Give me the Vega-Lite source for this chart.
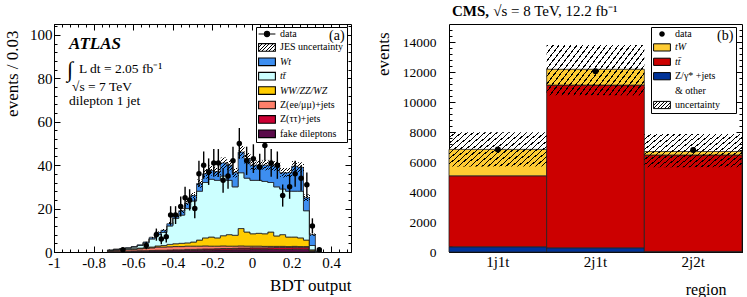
{
"$schema": "https://vega.github.io/schema/vega-lite/v6.json",
"padding": {"left": 3, "top": 4, "right": 4, "bottom": 3},
"bounds": "flush",
"spacing": 98,
"params": [
 {"name": "hatchS", "value": {"gradient": "linear", "x1": 0, "y1": 0, "x2": 1.206, "y2": 0.543, "stops": [
  {"offset": 0, "color": "#000"}, {"offset": 0.0429, "color": "#000"}, {"offset": 0.0429, "color": "transparent"}, {"offset": 0.1429, "color": "transparent"},
  {"offset": 0.1429, "color": "#000"}, {"offset": 0.1857, "color": "#000"}, {"offset": 0.1857, "color": "transparent"}, {"offset": 0.2857, "color": "transparent"},
  {"offset": 0.2857, "color": "#000"}, {"offset": 0.3286, "color": "#000"}, {"offset": 0.3286, "color": "transparent"}, {"offset": 0.4286, "color": "transparent"},
  {"offset": 0.4286, "color": "#000"}, {"offset": 0.4714, "color": "#000"}, {"offset": 0.4714, "color": "transparent"}, {"offset": 0.5714, "color": "transparent"},
  {"offset": 0.5714, "color": "#000"}, {"offset": 0.6143, "color": "#000"}, {"offset": 0.6143, "color": "transparent"}, {"offset": 0.7143, "color": "transparent"},
  {"offset": 0.7143, "color": "#000"}, {"offset": 0.7571, "color": "#000"}, {"offset": 0.7571, "color": "transparent"}, {"offset": 0.8571, "color": "transparent"},
  {"offset": 0.8571, "color": "#000"}, {"offset": 0.9, "color": "#000"}, {"offset": 0.9, "color": "transparent"}, {"offset": 1, "color": "transparent"}
 ]}}
],
"datasets": {
 "mc": [
  {"x":-0.73,"c1":0.3,"c2":0,"c3":0.4,"c4":0,"c5":0.1,"c6":0},
  {"x":-0.70,"c1":0.3,"c2":0.1,"c3":0.5,"c4":0.1,"c5":0.2,"c6":0.1},
  {"x":-0.67,"c1":0.3,"c2":0.1,"c3":0.6,"c4":0.1,"c5":0.3,"c6":0.1},
  {"x":-0.64,"c1":0.3,"c2":0.1,"c3":0.7,"c4":0.2,"c5":0.5,"c6":0.1},
  {"x":-0.61,"c1":0.4,"c2":0.1,"c3":0.8,"c4":0.2,"c5":0.8,"c6":0.2},
  {"x":-0.58,"c1":0.4,"c2":0.2,"c3":0.9,"c4":0.3,"c5":1.2,"c6":0.3},
  {"x":-0.55,"c1":0.4,"c2":0.2,"c3":1.0,"c4":0.4,"c5":2.2,"c6":0.4},
  {"x":-0.52,"c1":0.5,"c2":0.2,"c3":1.2,"c4":0.4,"c5":3.7,"c6":0.6,"jl":6.2,"jh":7.0},
  {"x":-0.49,"c1":0.5,"c2":0.3,"c3":1.5,"c4":0.5,"c5":5.2,"c6":1.0,"jl":8.5,"jh":9.5},
  {"x":-0.46,"c1":0.5,"c2":0.3,"c3":1.5,"c4":0.7,"c5":6.0,"c6":1.0,"jl":9.4,"jh":10.6},
  {"x":-0.43,"c1":0.5,"c2":0.4,"c3":1.5,"c4":1.1,"c5":8.5,"c6":1.0,"jl":12.2,"jh":13.8},
  {"x":-0.40,"c1":0.6,"c2":0.4,"c3":1.5,"c4":1.3,"c5":11.7,"c6":1.5,"jl":16.0,"jh":18.0},
  {"x":-0.37,"c1":0.6,"c2":0.4,"c3":1.5,"c4":1.5,"c5":13.0,"c6":2.0,"jl":17.9,"jh":20.1},
  {"x":-0.34,"c1":0.7,"c2":0.5,"c3":1.5,"c4":1.5,"c5":15.8,"c6":2.5,"jl":21.2,"jh":23.8},
  {"x":-0.31,"c1":0.7,"c2":0.5,"c3":1.5,"c4":1.9,"c5":18.9,"c6":2.5,"jl":24.4,"jh":27.6},
  {"x":-0.28,"c1":0.8,"c2":0.5,"c3":1.4,"c4":2.8,"c5":22.5,"c6":3.5,"jl":29.6,"jh":33.4},
  {"x":-0.25,"c1":0.8,"c2":0.6,"c3":1.4,"c4":3.7,"c5":25.5,"c6":4.0,"jl":33.8,"jh":38.2},
  {"x":-0.22,"c1":0.8,"c2":0.6,"c3":1.3,"c4":4.2,"c5":26.6,"c6":4.0,"jl":35.2,"jh":39.8},
  {"x":-0.19,"c1":0.9,"c2":0.6,"c3":1.2,"c4":3.8,"c5":26.5,"c6":4.0,"jl":34.8,"jh":39.2},
  {"x":-0.16,"c1":0.9,"c2":0.7,"c3":1.2,"c4":4.7,"c5":27.5,"c6":6.0,"jl":38.5,"jh":43.5},
  {"x":-0.13,"c1":0.9,"c2":0.7,"c3":1.1,"c4":5.3,"c5":25.0,"c6":7.0,"jl":37.6,"jh":42.4},
  {"x":-0.10,"c1":1.0,"c2":0.7,"c3":1.0,"c4":5.0,"c5":22.3,"c6":6.5,"jl":34.3,"jh":38.7},
  {"x":-0.07,"c1":1.0,"c2":0.8,"c3":1.0,"c4":8.0,"c5":25.7,"c6":9.5,"jl":43.2,"jh":48.8},
  {"x":-0.04,"c1":1.0,"c2":0.8,"c3":0.9,"c4":6.5,"c5":24.8,"c6":9.0,"jl":40.4,"jh":45.6},
  {"x":-0.01,"c1":1.1,"c2":0.8,"c3":0.8,"c4":5.7,"c5":24.6,"c6":7.0,"jl":37.6,"jh":42.4},
  {"x":0.02,"c1":1.1,"c2":0.8,"c3":0.8,"c4":5.9,"c5":24.4,"c6":7.0,"jl":37.6,"jh":42.4},
  {"x":0.05,"c1":1.1,"c2":0.8,"c3":0.7,"c4":5.8,"c5":24.1,"c6":7.5,"jl":37.6,"jh":42.4},
  {"x":0.08,"c1":1.2,"c2":0.8,"c3":0.6,"c4":6.6,"c5":22.8,"c6":8.0,"jl":37.6,"jh":42.4},
  {"x":0.11,"c1":1.2,"c2":0.9,"c3":0.5,"c4":4.8,"c5":22.6,"c6":9.5,"jl":37.1,"jh":41.9},
  {"x":0.14,"c1":1.2,"c2":0.9,"c3":0.5,"c4":5.4,"c5":21.0,"c6":7.5,"jl":34.3,"jh":38.7},
  {"x":0.17,"c1":1.2,"c2":0.9,"c3":0.4,"c4":4.4,"c5":21.1,"c6":8.5,"jl":34.3,"jh":38.7},
  {"x":0.20,"c1":1.3,"c2":0.9,"c3":0.4,"c4":4.3,"c5":21.1,"c6":11.5,"jl":37.1,"jh":41.9},
  {"x":0.23,"c1":1.3,"c2":0.9,"c3":0.3,"c4":4.0,"c5":21.5,"c6":11.0,"jl":36.7,"jh":41.3},
  {"x":0.26,"c1":1.3,"c2":0.9,"c3":0.3,"c4":3.0,"c5":13.5,"c6":6.0,"jl":23.5,"jh":26.5},
  {"x":0.29,"c1":0.3,"c2":0.2,"c3":0.1,"c4":0.4,"c5":2.0,"c6":5.0,"jl":7.5,"jh":8.5},
  {"x":0.32,"c1":0,"c2":0,"c3":0,"c4":0,"c5":0.2,"c6":0.3},
  {"x":0.35,"c1":0,"c2":0,"c3":0,"c4":0,"c5":0,"c6":0}
 ],
 "pts": [
  {"x":-0.652,"n":1,"e":1},{"x":-0.534,"n":3,"e":1.7},{"x":-0.483,"n":8,"e":2.8},{"x":-0.458,"n":6,"e":2.4},
  {"x":-0.433,"n":7,"e":2.6},{"x":-0.411,"n":17,"e":4.1},{"x":-0.386,"n":17,"e":4.1},{"x":-0.36,"n":21,"e":4.6},
  {"x":-0.338,"n":25,"e":5},{"x":-0.315,"n":24,"e":4.9},{"x":-0.289,"n":20,"e":4.5},{"x":-0.268,"n":36,"e":6},
  {"x":-0.244,"n":40,"e":6.3},{"x":-0.219,"n":37,"e":6.1},{"x":-0.193,"n":41,"e":6.4},{"x":-0.17,"n":41,"e":6.4},
  {"x":-0.146,"n":33,"e":5.7},{"x":-0.121,"n":35,"e":5.9},{"x":-0.096,"n":42,"e":6.5},{"x":-0.064,"n":50,"e":7.1},
  {"x":-0.027,"n":42,"e":6.5},{"x":0.007,"n":43,"e":6.6},{"x":0.039,"n":39,"e":6.2},{"x":0.065,"n":49,"e":7},
  {"x":0.097,"n":41,"e":6.4},{"x":0.128,"n":40,"e":6.3},{"x":0.155,"n":26,"e":5.1},{"x":0.19,"n":30,"e":5.5},
  {"x":0.218,"n":36,"e":6},{"x":0.248,"n":34,"e":5.8},{"x":0.277,"n":31,"e":5.6},{"x":0.305,"n":12,"e":3.5},
  {"x":0.34,"n":1,"e":1}
 ],
 "cms": [
  {"r":"1j1t","b1":350,"b2":4730,"b3":1760,"lo":5700,"hi":7980,"d":6830},
  {"r":"2j1t","b1":280,"b2":10850,"b3":1050,"lo":10450,"hi":13800,"d":12050},
  {"r":"2j2t","b1":40,"b2":6430,"b3":230,"lo":5650,"hi":7870,"d":6800}
 ]
},
"resolve": {"scale": {"color": "independent"}, "legend": {"color": "independent"}},
"hconcat": [
 {
  "width": 297, "height": 228,
  "resolve": {"axis": {"x": "independent", "y": "independent"}},
  "layer": [
   {
    "data": {"name": "mc"},
    "transform": [{"fold": ["c1","c2","c3","c4","c5","c6"]}],
    "mark": {"type": "area", "interpolate": "step-after", "stroke": "#222", "strokeWidth": 0.8, "opacity": 1},
    "encoding": {
     "x": {"field": "x", "type": "quantitative", "scale": {"domain": [-1, 0.5], "nice": false, "zero": false},
      "axis": {"orient": "bottom", "values": [-1,-0.8,-0.6,-0.4,-0.2,0,0.2,0.4], "labelExpr": "'' + datum.value", "tickSize": -6, "labelPadding": 9, "labelFontSize": 15, "labelFlush": false, "labelOverlap": false, "domain": true, "title": "BDT output", "titleFontSize": 17, "titleAnchor": "end", "titlePadding": 7}},
     "y": {"field": "value", "type": "quantitative", "stack": "zero", "scale": {"domain": [0, 105], "nice": false},
      "axis": {"orient": "left", "values": [0,20,40,60,80,100], "tickSize": -6, "labelPadding": 8, "labelFontSize": 15, "domain": true, "title": "events / 0.03", "titleFontSize": 17, "titleAnchor": "end", "titlePadding": 8, "titleY": 6}},
     "color": {"field": "key", "type": "nominal",
      "scale": {"domain": ["data","jes","c6","c5","c4","c3","c2","c1"], "range": ["#000", {"expr": "hatchS"}, "#3d8ef0","#ccffff","#ffcc00","#ff7f6a","#cc0033","#5a0a4a"]},
      "legend": {"orient": "none", "legendX": 202, "legendY": 3, "title": "(a)", "titleOrient": "right", "titleAnchor": "start", "titleFont": "Liberation Serif", "titleFontSize": 14, "titleFontWeight": "normal", "titleColor": "#000", "titlePadding": -14,
       "fillColor": "#fff", "strokeColor": "#000", "padding": 2,
       "symbolType": {"expr": "datum.value === 'data' ? 'M-2.1,0H2.1M-0.65,0A0.65,0.65,0,1,1,0.65,0A0.65,0.65,0,1,1,-0.65,0Z' : 'M-2.1,-0.95H2.1V0.95H-2.1Z'"},
       "symbolSize": 64, "symbolOffset": 4, "symbolStrokeColor": "#000", "symbolStrokeWidth": 1.1, "symbolOpacity": 1,
       "labelFont": "Liberation Serif", "labelFontSize": 10, "labelColor": "#000", "labelOffset": 8, "rowPadding": 2.4,
       "labelFontStyle": {"expr": "indexof(['c6','c5','c4'], datum.value) >= 0 ? 'italic' : 'normal'"},
       "labelExpr": "datum.value === 'data' ? 'data' : datum.value === 'jes' ? 'JES uncertainty' : datum.value === 'c6' ? 'Wt' : datum.value === 'c5' ? 'tt̄' : datum.value === 'c4' ? 'WW/ZZ/WZ' : datum.value === 'c3' ? 'Z(ee/μμ)+jets' : datum.value === 'c2' ? 'Z(ττ)+jets' : 'fake dileptons'"}},
     "order": {"field": "key", "sort": "ascending"}
    }
   },
   {
    "data": {"name": "mc"},
    "mark": {"type": "rect", "fill": {"gradient": "linear", "x1": 0, "y1": 0, "x2": 0.6, "y2": 1.2, "stops": [
     {"offset": 0, "color": "#000"}, {"offset": 0.06, "color": "#000"}, {"offset": 0.06, "color": "transparent"}, {"offset": 0.2, "color": "transparent"},
     {"offset": 0.2, "color": "#000"}, {"offset": 0.26, "color": "#000"}, {"offset": 0.26, "color": "transparent"}, {"offset": 0.4, "color": "transparent"},
     {"offset": 0.4, "color": "#000"}, {"offset": 0.46, "color": "#000"}, {"offset": 0.46, "color": "transparent"}, {"offset": 0.6, "color": "transparent"},
     {"offset": 0.6, "color": "#000"}, {"offset": 0.66, "color": "#000"}, {"offset": 0.66, "color": "transparent"}, {"offset": 0.8, "color": "transparent"},
     {"offset": 0.8, "color": "#000"}, {"offset": 0.86, "color": "#000"}, {"offset": 0.86, "color": "transparent"}, {"offset": 1, "color": "transparent"}]}},
    "encoding": {
     "x": {"field": "x", "type": "quantitative", "bin": {"binned": true, "step": 0.03}, "axis": null},
     "y": {"field": "jl", "type": "quantitative", "axis": null},
     "y2": {"field": "jh"}
    }
   },
   {
    "data": {"name": "pts"},
    "mark": {"type": "errorbar", "color": "#000", "thickness": 1.4},
    "encoding": {"x": {"field": "x", "type": "quantitative", "axis": null}, "y": {"field": "n", "type": "quantitative", "axis": null}, "yError": {"field": "e"}}
   },
   {
    "data": {"name": "pts"},
    "mark": {"type": "point", "filled": true, "color": "#000", "size": 30, "opacity": 1},
    "encoding": {"x": {"field": "x", "type": "quantitative", "axis": null}, "y": {"field": "n", "type": "quantitative", "axis": null}}
   },
   {
    "data": {"values": [{}]},
    "mark": {"type": "text", "text": "ATLAS", "align": "left", "baseline": "alphabetic", "font": "Liberation Serif", "fontSize": 17, "fontStyle": "italic", "fontWeight": "bold", "color": "#000"},
    "encoding": {"x": {"datum": -0.924, "axis": null}, "y": {"datum": 93.3, "axis": null}}
   },
   {
    "data": {"values": [{}]},
    "mark": {"type": "text", "text": "∫", "align": "left", "baseline": "alphabetic", "font": "Liberation Serif", "fontSize": 22, "color": "#000"},
    "encoding": {"x": {"datum": -0.934, "axis": null}, "y": {"datum": 80.5, "axis": null}}
   },
   {
    "data": {"values": [{}]},
    "mark": {"type": "text", "text": "L dt = 2.05 fb⁻¹", "align": "left", "baseline": "alphabetic", "font": "Liberation Serif", "fontSize": 13.5, "color": "#000"},
    "encoding": {"x": {"datum": -0.874, "axis": null}, "y": {"datum": 82.5, "axis": null}}
   },
   {
    "data": {"values": [{}]},
    "mark": {"type": "text", "text": "√s = 7 TeV", "align": "left", "baseline": "alphabetic", "font": "Liberation Serif", "fontSize": 13.5, "color": "#000"},
    "encoding": {"x": {"datum": -0.909, "axis": null}, "y": {"datum": 74.2, "axis": null}}
   },
   {
    "data": {"values": [{}]},
    "mark": {"type": "text", "text": "dilepton 1 jet", "align": "left", "baseline": "alphabetic", "font": "Liberation Serif", "fontSize": 13.5, "color": "#000"},
    "encoding": {"x": {"datum": -0.924, "axis": null}, "y": {"datum": 67.7, "axis": null}}
   },
   {
    "data": {"name": "pts"},
    "mark": {"type": "point", "opacity": 0},
    "encoding": {
     "x": {"field": "x", "type": "quantitative", "axis": {"orient": "bottom", "values": [-1,-0.96,-0.92,-0.88,-0.84,-0.8,-0.76,-0.72,-0.68,-0.64,-0.6,-0.56,-0.52,-0.48,-0.44,-0.4,-0.36,-0.32,-0.28,-0.24,-0.2,-0.16,-0.12,-0.08,-0.04,0,0.04,0.08,0.12,0.16,0.2,0.24,0.28,0.32,0.36,0.4,0.44,0.48], "labels": false, "tickSize": -3, "domain": false, "title": null}},
     "y": {"field": "n", "type": "quantitative", "axis": {"orient": "left", "values": [0,4,8,12,16,20,24,28,32,36,40,44,48,52,56,60,64,68,72,76,80,84,88,92,96,100,104], "labels": false, "tickSize": -3, "domain": false, "title": null}}
    }
   },
   {
    "data": {"name": "pts"},
    "mark": {"type": "point", "opacity": 0},
    "encoding": {
     "x": {"field": "x", "type": "quantitative", "axis": {"orient": "top", "values": [-1,-0.8,-0.6,-0.4,-0.2,0,0.2,0.4], "labels": false, "tickSize": -6, "domain": true, "title": null}},
     "y": {"field": "n", "type": "quantitative", "axis": {"orient": "right", "values": [0,20,40,60,80,100], "labels": false, "tickSize": -6, "domain": true, "title": null}}
    }
   },
   {
    "data": {"name": "pts"},
    "mark": {"type": "point", "opacity": 0},
    "encoding": {
     "x": {"field": "x", "type": "quantitative", "axis": {"orient": "top", "values": [-1,-0.96,-0.92,-0.88,-0.84,-0.8,-0.76,-0.72,-0.68,-0.64,-0.6,-0.56,-0.52,-0.48,-0.44,-0.4,-0.36,-0.32,-0.28,-0.24,-0.2,-0.16,-0.12,-0.08,-0.04,0,0.04,0.08,0.12,0.16,0.2,0.24,0.28,0.32,0.36,0.4,0.44,0.48], "labels": false, "tickSize": -3, "domain": false, "title": null}},
     "y": {"field": "n", "type": "quantitative", "axis": {"orient": "right", "values": [0,4,8,12,16,20,24,28,32,36,40,44,48,52,56,60,64,68,72,76,80,84,88,92,96,100,104], "labels": false, "tickSize": -3, "domain": false, "title": null}}
    }
   }
  ]
 },
 {
  "width": 293, "height": 228,
  "title": {"text": "CMS,", "subtitle": "\u200b\u00a0\u00a0\u00a0\u00a0\u00a0\u00a0\u00a0\u00a0\u00a0\u00a0\u00a0√s = 8 TeV, 12.2 fb⁻¹", "anchor": "start", "frame": "group", "font": "Liberation Serif", "fontSize": 15, "fontWeight": "bold", "color": "#000", "subtitleFont": "Liberation Serif", "subtitleFontSize": 15, "subtitleFontWeight": "normal", "subtitleColor": "#000", "subtitlePadding": -15, "offset": 5, "dx": 3},
  "data": {"name": "cms"},
  "resolve": {"axis": {"x": "independent", "y": "independent"}},
  "layer": [
   {
    "transform": [{"fold": ["b1","b2","b3"]}],
    "mark": {"type": "bar", "stroke": "#222", "strokeWidth": 0.8, "opacity": 1},
    "encoding": {
     "x": {"field": "r", "type": "nominal", "scale": {"paddingInner": 0, "paddingOuter": 0},
      "axis": {"orient": "bottom", "ticks": false, "labelAngle": 0, "labelPadding": 2, "labelFontSize": 15, "domain": true, "title": "region", "titleFontSize": 16, "titleAnchor": "end", "titlePadding": 12, "titleX": 277}},
     "y": {"field": "value", "type": "quantitative", "stack": "zero", "scale": {"domain": [0, 15200], "nice": false},
      "axis": {"orient": "left", "values": [0,2000,4000,6000,8000,10000,12000,14000], "format": "d", "tickSize": -6, "labelPadding": 19, "labelFontSize": 13.5, "domain": true, "title": "events", "titleFontSize": 17, "titleAnchor": "end", "titlePadding": 10, "titleY": 8}},
     "color": {"field": "key", "type": "nominal",
      "scale": {"domain": ["data","b3","b2","b1","other","unc"], "range": ["#000","#ffcc33","#cc0000","#003399","transparent", {"expr": "hatchS"}]},
      "legend": {"orient": "none", "legendX": 202, "legendY": 3, "title": "(b)", "titleOrient": "right", "titleAnchor": "start", "titleFont": "Liberation Serif", "titleFontSize": 14, "titleFontWeight": "normal", "titleColor": "#000", "titlePadding": -3,
       "fillColor": "#fff", "strokeColor": "#000", "padding": 2,
       "symbolType": {"expr": "datum.value === 'data' ? 'M-0.7,0A0.7,0.7,0,1,1,0.7,0A0.7,0.7,0,1,1,-0.7,0Z' : 'M-2.1,-0.9H2.1V0.9H-2.1Z'"},
       "symbolSize": 64, "symbolOffset": 4, "symbolStrokeWidth": 1, "symbolOpacity": 1,
       "symbolStrokeColor": {"expr": "(datum.value === 'data' || datum.value === 'other') ? 'transparent' : '#000'"},
       "labelFont": "Liberation Serif", "labelFontSize": 10, "labelColor": "#000", "labelOffset": 8, "rowPadding": 2.4,
       "labelFontStyle": {"expr": "indexof(['b3','b2'], datum.value) >= 0 ? 'italic' : 'normal'"},
       "labelExpr": "datum.value === 'data' ? 'data' : datum.value === 'b3' ? 'tW' : datum.value === 'b2' ? 'tt̄' : datum.value === 'b1' ? 'Z/γ* +jets' : datum.value === 'other' ? '& other' : 'uncertainty'"}},
     "order": {"field": "key", "sort": "ascending"}
    }
   },
   {
    "mark": {"type": "rect", "fill": {"gradient": "linear", "x1": 0, "y1": 0, "x2": 1.207, "y2": 0.483, "stops": [
     {"offset":0,"color":"#000"},{"offset":0.0096,"color":"#000"},{"offset":0.0096,"color":"transparent"},{"offset":0.0435,"color":"transparent"},
     {"offset":0.0435,"color":"#000"},{"offset":0.0531,"color":"#000"},{"offset":0.0531,"color":"transparent"},{"offset":0.087,"color":"transparent"},
     {"offset":0.087,"color":"#000"},{"offset":0.0966,"color":"#000"},{"offset":0.0966,"color":"transparent"},{"offset":0.1304,"color":"transparent"},
     {"offset":0.1304,"color":"#000"},{"offset":0.14,"color":"#000"},{"offset":0.14,"color":"transparent"},{"offset":0.1739,"color":"transparent"},
     {"offset":0.1739,"color":"#000"},{"offset":0.1835,"color":"#000"},{"offset":0.1835,"color":"transparent"},{"offset":0.2174,"color":"transparent"},
     {"offset":0.2174,"color":"#000"},{"offset":0.227,"color":"#000"},{"offset":0.227,"color":"transparent"},{"offset":0.2609,"color":"transparent"},
     {"offset":0.2609,"color":"#000"},{"offset":0.2705,"color":"#000"},{"offset":0.2705,"color":"transparent"},{"offset":0.3043,"color":"transparent"},
     {"offset":0.3043,"color":"#000"},{"offset":0.3139,"color":"#000"},{"offset":0.3139,"color":"transparent"},{"offset":0.3478,"color":"transparent"},
     {"offset":0.3478,"color":"#000"},{"offset":0.3574,"color":"#000"},{"offset":0.3574,"color":"transparent"},{"offset":0.3913,"color":"transparent"},
     {"offset":0.3913,"color":"#000"},{"offset":0.4009,"color":"#000"},{"offset":0.4009,"color":"transparent"},{"offset":0.4348,"color":"transparent"},
     {"offset":0.4348,"color":"#000"},{"offset":0.4444,"color":"#000"},{"offset":0.4444,"color":"transparent"},{"offset":0.4783,"color":"transparent"},
     {"offset":0.4783,"color":"#000"},{"offset":0.4879,"color":"#000"},{"offset":0.4879,"color":"transparent"},{"offset":0.5217,"color":"transparent"},
     {"offset":0.5217,"color":"#000"},{"offset":0.5313,"color":"#000"},{"offset":0.5313,"color":"transparent"},{"offset":0.5652,"color":"transparent"},
     {"offset":0.5652,"color":"#000"},{"offset":0.5748,"color":"#000"},{"offset":0.5748,"color":"transparent"},{"offset":0.6087,"color":"transparent"},
     {"offset":0.6087,"color":"#000"},{"offset":0.6183,"color":"#000"},{"offset":0.6183,"color":"transparent"},{"offset":0.6522,"color":"transparent"},
     {"offset":0.6522,"color":"#000"},{"offset":0.6618,"color":"#000"},{"offset":0.6618,"color":"transparent"},{"offset":0.6957,"color":"transparent"},
     {"offset":0.6957,"color":"#000"},{"offset":0.7053,"color":"#000"},{"offset":0.7053,"color":"transparent"},{"offset":0.7391,"color":"transparent"},
     {"offset":0.7391,"color":"#000"},{"offset":0.7487,"color":"#000"},{"offset":0.7487,"color":"transparent"},{"offset":0.7826,"color":"transparent"},
     {"offset":0.7826,"color":"#000"},{"offset":0.7922,"color":"#000"},{"offset":0.7922,"color":"transparent"},{"offset":0.8261,"color":"transparent"},
     {"offset":0.8261,"color":"#000"},{"offset":0.8357,"color":"#000"},{"offset":0.8357,"color":"transparent"},{"offset":0.8696,"color":"transparent"},
     {"offset":0.8696,"color":"#000"},{"offset":0.8792,"color":"#000"},{"offset":0.8792,"color":"transparent"},{"offset":0.913,"color":"transparent"},
     {"offset":0.913,"color":"#000"},{"offset":0.9226,"color":"#000"},{"offset":0.9226,"color":"transparent"},{"offset":0.9565,"color":"transparent"},
     {"offset":0.9565,"color":"#000"},{"offset":0.9661,"color":"#000"},{"offset":0.9661,"color":"transparent"},{"offset":1,"color":"transparent"}
    ]}},
    "encoding": {"x": {"field": "r", "type": "nominal", "axis": null}, "y": {"field": "lo", "type": "quantitative", "axis": null}, "y2": {"field": "hi"}}
   },
   {
    "mark": {"type": "point", "filled": true, "color": "#000", "size": 36, "opacity": 1},
    "encoding": {"x": {"field": "r", "type": "nominal", "axis": null}, "y": {"field": "d", "type": "quantitative", "axis": null}}
   },
   {
    "mark": {"type": "point", "opacity": 0},
    "encoding": {
     "x": {"field": "r", "type": "nominal", "axis": null},
     "y": {"field": "d", "type": "quantitative", "axis": {"orient": "left", "values": [0,400,800,1200,1600,2000,2400,2800,3200,3600,4000,4400,4800,5200,5600,6000,6400,6800,7200,7600,8000,8400,8800,9200,9600,10000,10400,10800,11200,11600,12000,12400,12800,13200,13600,14000,14400,14800], "labels": false, "tickSize": -3, "domain": false, "title": null}}
    }
   },
   {
    "mark": {"type": "point", "opacity": 0},
    "encoding": {
     "x": {"field": "r", "type": "nominal", "axis": {"orient": "top", "labels": false, "ticks": false, "domain": true, "title": null}},
     "y": {"field": "d", "type": "quantitative", "axis": {"orient": "right", "values": [0,2000,4000,6000,8000,10000,12000,14000], "labels": false, "tickSize": -6, "domain": true, "title": null}}
    }
   },
   {
    "mark": {"type": "point", "opacity": 0},
    "encoding": {
     "x": {"field": "r", "type": "nominal", "axis": null},
     "y": {"field": "d", "type": "quantitative", "axis": {"orient": "right", "values": [0,400,800,1200,1600,2000,2400,2800,3200,3600,4000,4400,4800,5200,5600,6000,6400,6800,7200,7600,8000,8400,8800,9200,9600,10000,10400,10800,11200,11600,12000,12400,12800,13200,13600,14000,14400,14800], "labels": false, "tickSize": -3, "domain": false, "title": null}}
    }
   }
  ]
 }
],
"config": {
 "font": "Liberation Serif",
 "view": {"stroke": null},
 "axis": {"grid": false, "domainColor": "#000", "domainWidth": 1, "tickColor": "#000", "tickWidth": 1, "labelColor": "#000", "titleColor": "#000", "labelFont": "Liberation Serif", "titleFont": "Liberation Serif", "titleFontWeight": "normal", "zindex": 1}
}
}
